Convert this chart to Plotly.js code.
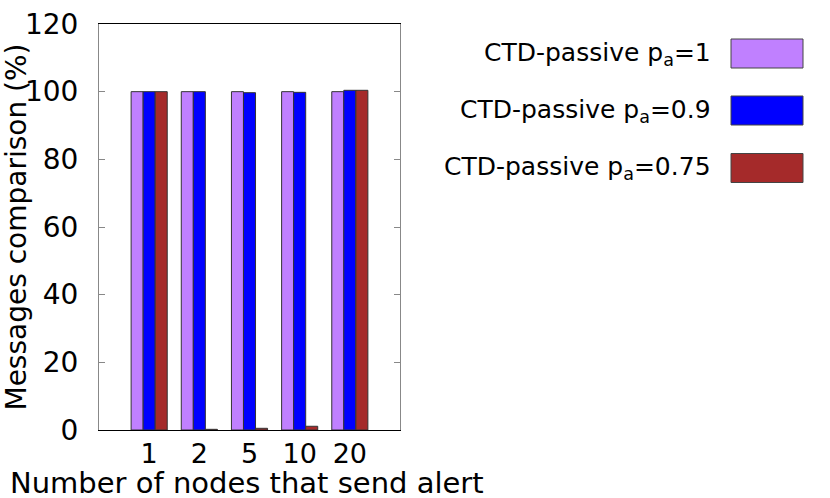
<!DOCTYPE html>
<html>
<head>
<meta charset="utf-8">
<script src="https://cdn.plot.ly/plotly-3.0.1.min.js"></script>
<style>
  html, body { margin: 0; padding: 0; background: #fff; }
  #plot { width: 830px; height: 498px; }
</style>
</head>
<body>
<div id="plot"></div>
<script>
"use strict";

// Number of nodes that send alert
const nodes = ["1", "2", "5", "10", "20"];

// Messages comparison (%) per CTD-passive variant
const pa1   = [100, 100, 100, 100, 100];
const pa09  = [100, 100, 99.7, 99.8, 100.4];
const pa075 = [100, 0.2, 0.5, 1.1, 100.4];

const seriesNames  = ["CTD-passive p<sub>a</sub>=1",
                      "CTD-passive p<sub>a</sub>=0.9",
                      "CTD-passive p<sub>a</sub>=0.75"];
const seriesColors = ["#c080ff", "#0000ff", "#a52a2a"];
const seriesValues = [pa1, pa09, pa075];

const FONT = "DejaVu Sans, sans-serif";

const traces = seriesValues.map((vals, i) => ({
    type: "bar",
    x: nodes, y: vals,
    name: seriesNames[i],
    marker: { color: seriesColors[i], line: { color: "#333", width: 1 } },
    showlegend: false,
}));

// plot-area box in pixels; paper coords are relative to it
const L = 99, R = 400, T = 24, B = 430;
function px(x) { return (x - L) / (R - L); }
function py(y) { return (B - y) / (B - T); }

// Key drawn gnuplot-style: right-aligned text, swatch on the right
const keyRows = [53.5, 110.5, 168];
const annotations = [];
const shapes = [];
seriesNames.forEach((name, i) => {
    annotations.push({
        xref: "paper", yref: "paper",
        x: px(713), y: py(keyRows[i]),
        xanchor: "right", yanchor: "middle",
        text: name, showarrow: false,
        font: { family: FONT, size: 25, color: "#000" },
    });
    shapes.push({
        type: "rect", xref: "paper", yref: "paper",
        x0: px(731), x1: px(803),
        y0: py(keyRows[i] + 14.5), y1: py(keyRows[i] - 14.5),
        fillcolor: seriesColors[i],
        line: { color: "#444", width: 1 },
    });
});

// x-axis title placed as text so it sits below the tick labels like gnuplot
annotations.push({
    xref: "paper", yref: "paper",
    x: px(247), y: py(483),
    xanchor: "center", yanchor: "middle",
    text: "Number of nodes that send alert", showarrow: false,
    font: { family: FONT, size: 29, color: "#000" },
    borderpad: 0,
});

const layout = {
    width: 830, height: 498,
    margin: { l: L, r: 830 - R, t: T, b: 498 - B },
    paper_bgcolor: "#fff", plot_bgcolor: "#fff",
    font: { family: FONT, color: "#000" },
    barmode: "group",
    bargap: 0.28,
    bargroupgap: 0,
    showlegend: false,
    annotations: annotations,
    shapes: shapes,
    xaxis: {
        type: "category",
        range: [-1, 5],
        showgrid: false, zeroline: false,
        showline: true, mirror: true, linecolor: "#000", linewidth: 1,
        ticks: "",
        ticklabelstandoff: 0,
        tickfont: { family: FONT, size: 27 },
    },
    yaxis: {
        range: [0, 120], dtick: 20,
        showgrid: false, zeroline: false,
        showline: true, mirror: "ticks", linecolor: "#888", linewidth: 1,
        ticks: "inside", ticklen: 6, tickcolor: "#888",
        ticklabelstandoff: 14,
        tickfont: { family: FONT, size: 28 },
        title: { text: "Messages comparison (%)",
                 font: { family: FONT, size: 28 }, standoff: 0 },
    },
};

Plotly.newPlot("plot", traces, layout, { displayModeBar: false, staticPlot: true });
</script>
</body>
</html>
